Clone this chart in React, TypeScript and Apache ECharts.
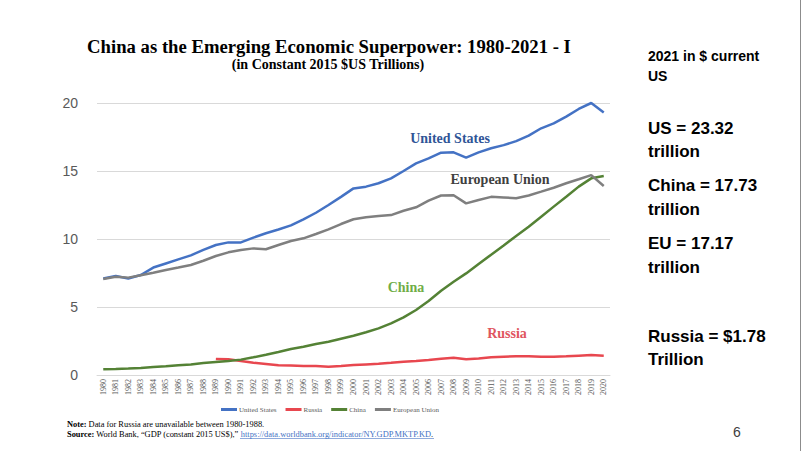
import React, { useEffect, useRef } from "react";
import * as echarts from "echarts";

const years = [
  "1980","1981","1982","1983","1984","1985","1986","1987","1988","1989",
  "1990","1991","1992","1993","1994","1995","1996","1997","1998","1999",
  "2000","2001","2002","2003","2004","2005","2006","2007","2008","2009",
  "2010","2011","2012","2013","2014","2015","2016","2017","2018","2019","2020",
];

const unitedStates = [
  7.1, 7.28, 7.1, 7.35, 7.9, 8.2, 8.5, 8.8, 9.2, 9.56,
  9.75, 9.75, 10.1, 10.42, 10.7, 11.0, 11.45, 11.93, 12.5, 13.1,
  13.72, 13.85, 14.1, 14.46, 15.0, 15.56, 15.93, 16.35, 16.37, 15.98,
  16.37, 16.67, 16.9, 17.2, 17.6, 18.14, 18.5, 19.0, 19.56, 20.0, 19.3,
];

const russia = [
  null, null, null, null, null, null, null, null, null, 1.18,
  1.15, 1.03, 0.9, 0.81, 0.71, 0.69, 0.66, 0.66, 0.61, 0.66,
  0.73, 0.78, 0.83, 0.9, 0.98, 1.03, 1.1, 1.2, 1.27, 1.15,
  1.22, 1.3, 1.35, 1.37, 1.38, 1.35, 1.35, 1.37, 1.42, 1.47, 1.42,
];

const china = [
  0.42, 0.44, 0.47, 0.51, 0.59, 0.64, 0.71, 0.78, 0.88, 0.96,
  1.03, 1.13, 1.3, 1.49, 1.69, 1.91, 2.08, 2.28, 2.45, 2.67,
  2.89, 3.14, 3.43, 3.8, 4.24, 4.78, 5.44, 6.2, 6.86, 7.47,
  8.16, 8.85, 9.53, 10.22, 10.9, 11.64, 12.38, 13.1, 13.85, 14.46, 14.63,
];

const europeanUnion = [
  7.06, 7.23, 7.16, 7.33, 7.52, 7.72, 7.9, 8.09, 8.4, 8.75,
  9.02, 9.19, 9.31, 9.25, 9.56, 9.85, 10.05, 10.37, 10.71, 11.1,
  11.45, 11.6, 11.69, 11.76, 12.08, 12.33, 12.82, 13.2, 13.22, 12.62,
  12.87, 13.1, 13.05, 13.0, 13.2, 13.48, 13.77, 14.1, 14.39, 14.7, 13.9,
];

const seriesNames = ["United States", "Russia", "China", "European Union"];
const seriesColors = ["#4472C4", "#E8474F", "#548235", "#7F7F7F"];

const titleText = "China as the Emerging Economic Superpower: 1980-2021 - I";
const subtitleText = "(in Constant 2015 $US Trillions)";

const sideTexts = [
  { text: "2021 in $ current", y: 56, size: 14 },
  { text: "US", y: 76, size: 14 },
  { text: "US = 23.32", y: 128, size: 17 },
  { text: "trillion", y: 151, size: 17 },
  { text: "China = 17.73", y: 185, size: 17 },
  { text: "trillion", y: 209, size: 17 },
  { text: "EU = 17.17", y: 243, size: 17 },
  { text: "trillion", y: 267, size: 17 },
  { text: "Russia = $1.78", y: 336, size: 17 },
  { text: "Trillion", y: 359, size: 17 },
];

const serif = "'Liberation Serif', 'Times New Roman', serif";
const sans = "'Liberation Sans', Arial, sans-serif";

export default function App() {
  const ref = useRef<HTMLDivElement>(null);

  useEffect(() => {
    document.body.style.margin = "0";
    if (!ref.current) return;
    const chart = echarts.init(ref.current, null, { renderer: "svg" });

    const dataSets = [unitedStates, russia, china, europeanUnion];

    const lineLabels = [
      { text: "United States", x: 450, y: 138, color: "#2F5597" },
      { text: "European Union", x: 500, y: 179, color: "#404040" },
      { text: "China", x: 406, y: 287, color: "#70AD47" },
      { text: "Russia", x: 507, y: 333, color: "#E05560" },
    ];

    const graphics: any[] = [
      {
        type: "rect",
        z: -10,
        shape: { x: 0, y: 0, width: 802, height: 451 },
        style: { fill: "#ffffff" },
        silent: true,
      },
      {
        type: "line",
        shape: { x1: 800.5, y1: 0, x2: 800.5, y2: 451 },
        style: { stroke: "#8c8c8c", lineWidth: 1 },
      },
      {
        type: "text",
        x: 329,
        y: 46,
        style: {
          text: titleText,
          font: `bold 18.7px ${serif}`,
          fill: "#000000",
          textAlign: "center",
          textVerticalAlign: "middle",
        },
      },
      {
        type: "text",
        x: 328,
        y: 64,
        style: {
          text: subtitleText,
          font: `bold 14px ${serif}`,
          fill: "#000000",
          textAlign: "center",
          textVerticalAlign: "middle",
        },
      },
      ...lineLabels.map((l) => ({
        type: "text",
        x: l.x,
        y: l.y,
        style: {
          text: l.text,
          font: `bold 14px ${serif}`,
          fill: l.color,
          textAlign: "center",
          textVerticalAlign: "middle",
        },
      })),
      ...sideTexts.map((s) => ({
        type: "text",
        x: 648,
        y: s.y,
        style: {
          text: s.text,
          font: `bold ${s.size}px ${sans}`,
          fill: "#000000",
          textAlign: "left",
          textVerticalAlign: "middle",
        },
      })),
      {
        type: "text",
        x: 67,
        y: 424,
        style: {
          text: "{b|Note:} Data for Russia are unavailable between 1980-1988.",
          font: `8.4px ${serif}`,
          fill: "#000000",
          textVerticalAlign: "middle",
          rich: { b: { fontWeight: "bold", fontFamily: serif, fontSize: 8.4, fill: "#000000" } },
        },
      },
      {
        type: "text",
        x: 67,
        y: 434,
        style: {
          text:
            "{b|Source:} World Bank, \u201cGDP (constant 2015 US$),\u201d {l|https://data.worldbank.org/indicator/NY.GDP.MKTP.KD}.",
          font: `8.4px ${serif}`,
          fill: "#000000",
          textVerticalAlign: "middle",
          rich: {
            b: { fontWeight: "bold", fontFamily: serif, fontSize: 8.4, fill: "#000000" },
            l: { fontFamily: serif, fontSize: 8.4, fill: "#4472C4" },
          },
        },
      },
      {
        type: "line",
        shape: { x1: 240, y1: 438.5, x2: 434, y2: 438.5 },
        style: { stroke: "#4472C4", lineWidth: 0.6 },
      },
      {
        type: "text",
        x: 737,
        y: 432,
        style: {
          text: "6",
          font: `14px ${sans}`,
          fill: "#404040",
          textAlign: "center",
          textVerticalAlign: "middle",
        },
      },
    ];

    chart.setOption({
      animation: false,
      backgroundColor: "#ffffff",
      grid: { left: 97, right: 192, top: 103, bottom: 76, containLabel: false },
      legend: {
        data: seriesNames,
        left: 216,
        top: 401,
        icon: "rect",
        itemWidth: 16,
        itemHeight: 3,
        itemGap: 9,
        textStyle: { fontSize: 7, color: "#595959", fontFamily: serif, padding: [0, 0, 0, -3] },
      },
      xAxis: {
        type: "category",
        data: years,
        boundaryGap: true,
        axisLine: { lineStyle: { color: "#d9d9d9" } },
        axisTick: { show: false },
        axisLabel: {
          rotate: 90,
          interval: 0,
          fontSize: 8,
          color: "#595959",
          fontFamily: serif,
          margin: 4,
        },
      },
      yAxis: {
        type: "value",
        min: 0,
        max: 20,
        interval: 5,
        axisLine: { show: false },
        axisTick: { show: false },
        axisLabel: { fontSize: 14, color: "#595959", fontFamily: sans, margin: 19 },
        splitLine: { lineStyle: { color: "#d9d9d9", width: 1 } },
      },
      series: seriesNames.map((name, i) => ({
        name,
        type: "line",
        data: dataSets[i],
        showSymbol: false,
        symbol: "none",
        clip: false,
        connectNulls: false,
        lineStyle: { width: 2.5, color: seriesColors[i] },
        itemStyle: { color: seriesColors[i] },
      })),
      graphic: graphics,
    });

    return () => chart.dispose();
  }, []);

  return <div ref={ref} style={{ width: 802, height: 451 }} />;
}
